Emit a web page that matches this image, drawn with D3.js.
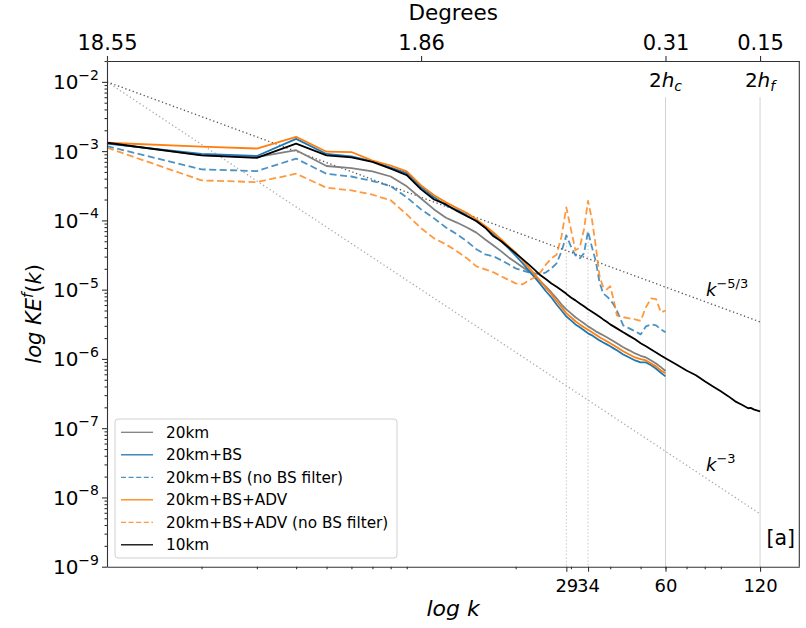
<!DOCTYPE html>
<html>
<head>
<meta charset="utf-8">
<script src="https://cdn.jsdelivr.net/npm/d3@7"></script>
<style>
  body { margin: 0; background: #fff; }
  svg { display: block; }
  text { font-family: "DejaVu Sans", sans-serif; fill: #000; }
</style>
</head>
<body>
<svg id="chart" width="806" height="628"></svg>
<script>
// Wavenumbers of the 20 km runs
const k20 = [1,2,3,4,5,6,7,8,9,10,11,12,13,14,15,16,17,18,19,20,21,22,23,24,25,26,27,28,29,30,
  31,32,33,34,35,36,37,38,39,40,41,42,44,46,48,50,52,54,56,58,60];

// Wavenumbers of the 10 km run
const k10 = [1,2,3,4,5,6,7,8,9,10,11,12,13,14,15,16,17,18,19,20,21,22,23,24,25,26,27,28,29,30,
  31,32,33,34,35,36,37,38,39,40,41,42,44,46,48,50,52,54,56,58,60,65,70,75,80,85,90,95,100,105,110,112,115,120];

// Kinetic energy spectra
const ke20km = [1.3e-3,8.75e-4,8.2e-4,1.03e-3,6.1e-4,5.7e-4,5.1e-4,4.3e-4,3.1e-4,2.07e-4,
  1.44e-4,1.09e-4,9.3e-5,7.9e-5,6.65e-5,5.3e-5,4.35e-5,3.57e-5,2.92e-5,2.48e-5,
  2.13e-5,1.84e-5,1.56e-5,1.32e-5,1.1e-5,9.1e-6,7.5e-6,6.1e-6,5.2e-6,4.55e-6,
  4.0e-6,3.6e-6,3.27e-6,2.95e-6,2.72e-6,2.5e-6,2.34e-6,2.19e-6,2.05e-6,1.92e-6,
  1.8e-6,1.68e-6,1.47e-6,1.33e-6,1.2e-6,1.11e-6,1.05e-6,9.5e-7,8.6e-7,7.6e-7,6.7e-7];

const ke20kmBS = [1.28e-3,9.1e-4,8.5e-4,1.5e-3,9.1e-4,8.4e-4,7.1e-4,5.8e-4,4.8e-4,3.0e-4,
  2.15e-4,1.65e-4,1.42e-4,1.18e-4,9.7e-5,7.9e-5,6.3e-5,5.0e-5,3.95e-5,3.1e-5,
  2.44e-5,1.9e-5,1.5e-5,1.19e-5,9.4e-6,7.7e-6,6.1e-6,5.0e-6,4.1e-6,3.6e-6,
  3.15e-6,2.86e-6,2.59e-6,2.34e-6,2.19e-6,2.01e-6,1.85e-6,1.73e-6,1.62e-6,1.52e-6,
  1.42e-6,1.33e-6,1.16e-6,1.05e-6,9.5e-7,8.9e-7,8.9e-7,8.1e-7,7.2e-7,6.3e-7,5.6e-7];

const ke20kmBSnoFilter = [1.18e-3,5.45e-4,5.15e-4,7.8e-4,4.7e-4,4.3e-4,3.7e-4,3.13e-4,2.15e-4,1.44e-4,
  1.07e-4,7.9e-5,6.3e-5,4.97e-5,3.82e-5,3.23e-5,3.03e-5,2.65e-5,2.32e-5,2.03e-5,
  1.9e-5,1.78e-5,1.72e-5,1.66e-5,1.78e-5,2.03e-5,2.4e-5,3.57e-5,6.1e-5,4.2e-5,
  3.13e-5,2.83e-5,3.34e-5,6.95e-5,4.08e-5,2.57e-5,1.27e-5,8.8e-6,8.0e-6,7.2e-6,
  6.1e-6,5.0e-6,3.05e-6,2.76e-6,2.5e-6,2.26e-6,2.95e-6,3.15e-6,3.05e-6,2.67e-6,2.42e-6];

const ke20kmBSADV = [1.32e-3,1.16e-3,1.09e-3,1.61e-3,9.8e-4,9.7e-4,7.3e-4,6.2e-4,5.1e-4,3.2e-4,
  2.3e-4,1.82e-4,1.51e-4,1.28e-4,1.03e-4,8.3e-5,6.7e-5,5.3e-5,4.2e-5,3.45e-5,
  2.68e-5,2.1e-5,1.66e-5,1.32e-5,1.05e-5,8.6e-6,6.8e-6,5.6e-6,4.55e-6,4.0e-6,
  3.5e-6,3.15e-6,2.86e-6,2.63e-6,2.42e-6,2.23e-6,2.05e-6,1.92e-6,1.8e-6,1.68e-6,
  1.57e-6,1.47e-6,1.29e-6,1.16e-6,1.05e-6,9.9e-7,9.5e-7,8.6e-7,7.8e-7,6.8e-7,6.2e-7];

const ke20kmBSADVnoFilter = [1.12e-3,3.78e-4,3.57e-4,4.72e-4,2.96e-4,2.71e-4,2.35e-4,1.95e-4,1.22e-4,7.7e-5,
  5.5e-5,4.5e-5,3.58e-5,2.83e-5,2.17e-5,1.96e-5,1.78e-5,1.56e-5,1.38e-5,1.23e-5,
  1.19e-5,1.36e-5,1.5e-5,1.78e-5,2.32e-5,2.83e-5,3.2e-5,5.9e-5,1.54e-4,7.4e-5,
  3.7e-5,4.07e-5,7.4e-5,1.91e-4,1.03e-4,4.2e-5,1.56e-5,1.08e-5,1.01e-5,1.12e-5,
  7.2e-6,4.26e-6,4.0e-6,3.85e-6,3.72e-6,3.55e-6,5.6e-6,7.5e-6,7.3e-6,4.7e-6,5.0e-6];

const ke10km = [1.32e-3,8.7e-4,8.0e-4,1.28e-3,8.7e-4,8.1e-4,7.0e-4,5.6e-4,4.5e-4,2.8e-4,
  2.0e-4,1.7e-4,1.37e-4,1.15e-4,9.8e-5,7.85e-5,5.9e-5,5.0e-5,4.07e-5,3.34e-5,
  2.78e-5,2.32e-5,1.93e-5,1.61e-5,1.41e-5,1.23e-5,1.1e-5,9.8e-6,8.7e-6,7.7e-6,
  7.0e-6,6.3e-6,5.74e-6,5.2e-6,4.79e-6,4.4e-6,4.06e-6,3.72e-6,3.43e-6,3.15e-6,
  2.95e-6,2.76e-6,2.42e-6,2.15e-6,1.92e-6,1.68e-6,1.52e-6,1.37e-6,1.24e-6,1.12e-6,1.02e-6,
  8.3e-7,6.8e-7,5.8e-7,4.75e-7,4.0e-7,3.4e-7,2.9e-7,2.44e-7,2.18e-7,1.94e-7,1.96e-7,1.85e-7,1.75e-7];

const seriesNames = ["20km", "20km+BS", "20km+BS (no BS filter)", "20km+BS+ADV",
  "20km+BS+ADV (no BS filter)", "10km"];

// Axis ticks
const yMajorTicks = [1e-2,1e-3,1e-4,1e-5,1e-6,1e-7,1e-8,1e-9];
const yExponents = ["\u22122","\u22123","\u22124","\u22125","\u22126","\u22127","\u22128","\u22129"];
const xBottomTicks = [29, 34, 60, 120];
const xTopTicks = [1, 10, 60, 120];
const degreeLabels = ["18.55", "1.86", "0.31", "0.15"];
const resolutionK = [60, 120];
const resolutionLabels = ["c", "f"];
const peakK = [29, 34];

// Reference slopes k^-5/3 and k^-3 anchored at k = 1
const slopeStartK = 1, slopeEndK = 120, slopeAnchor = 1e-2;
const slopes = [-5/3, -3];
const slopeExponents = ["\u22125/3", "\u22123"];

const svg = d3.select("#chart");
const x = d3.scaleLog().domain([1, 160]).range([107, 799.3]);
const y = d3.scaleLog().domain([1e-9, 2e-2]).range([566.7, 61]);
const x0 = x.range()[0], x1 = x.range()[1], yb = y.range()[0], yt = y.range()[1];

const axisColor = "#333";

// resolution markers
resolutionK.forEach(k => {
  svg.append("line")
    .attr("x1", x(k)).attr("x2", x(k))
    .attr("y1", y(6e-3)).attr("y2", yb)
    .attr("stroke", "#d3d3d3").attr("stroke-width", 1);
});

// forcing wavenumbers
peakK.forEach(k => {
  const i = k20.indexOf(k);
  svg.append("line")
    .attr("x1", x(k)).attr("x2", x(k))
    .attr("y1", y(ke20kmBSnoFilter[i])).attr("y2", yb)
    .attr("stroke", "#c8c8c8").attr("stroke-width", 1)
    .attr("stroke-dasharray", "1.5,2");
});

// reference slopes
const slopeColors = ["#555", "#aaa"];
slopes.forEach((s, i) => {
  svg.append("line")
    .attr("x1", x(slopeStartK)).attr("y1", y(slopeAnchor))
    .attr("x2", x(slopeEndK)).attr("y2", y(slopeAnchor * Math.pow(slopeEndK / slopeStartK, s)))
    .attr("stroke", slopeColors[i]).attr("stroke-width", 1.3)
    .attr("stroke-dasharray", "1.3,2.6");
});

// spectra
const line = d3.line().x(d => x(d[0])).y(d => y(d[1]));
const styles = [
  { color: "#808080", dash: null, op: 1 },
  { color: "#1f77b4", dash: null, op: 1 },
  { color: "#1f77b4", dash: "7,3.5", op: 0.8 },
  { color: "#ff7f0e", dash: null, op: 1 },
  { color: "#ff7f0e", dash: "7,3.5", op: 0.8 },
  { color: "#000000", dash: null, op: 1 }
];
const seriesData = [
  d3.zip(k20, ke20km),
  d3.zip(k20, ke20kmBS),
  d3.zip(k20, ke20kmBSnoFilter),
  d3.zip(k20, ke20kmBSADV),
  d3.zip(k20, ke20kmBSADVnoFilter),
  d3.zip(k10, ke10km)
];
seriesData.forEach((d, i) => {
  svg.append("path")
    .attr("d", line(d))
    .attr("fill", "none")
    .attr("stroke", styles[i].color)
    .attr("stroke-opacity", styles[i].op)
    .attr("stroke-width", 1.8)
    .attr("stroke-linejoin", "round")
    .attr("stroke-dasharray", styles[i].dash);
});

// frame
svg.append("line").attr("x1", x1).attr("x2", x1).attr("y1", yt).attr("y2", yb)
  .attr("stroke", axisColor).attr("stroke-width", 1.1);

// left axis
svg.append("g").attr("transform", `translate(${x0},0)`)
  .call(d3.axisLeft(y).tickValues(yMajorTicks).tickSize(5).tickSizeOuter(0).tickFormat(() => ""));
const yMinor = [];
for (let e = -9; e < -1; e++) for (let m = 2; m <= 9; m++) {
  const v = m * Math.pow(10, e);
  if (v <= 2e-2) yMinor.push(v);
}
svg.append("g").attr("transform", `translate(${x0},0)`)
  .call(d3.axisLeft(y).tickValues(yMinor).tickSize(2.5).tickSizeOuter(0).tickFormat(() => ""))
  .call(g => g.select(".domain").remove());
yMajorTicks.forEach((v, i) => {
  const t = svg.append("text").attr("x", x0 - 8).attr("y", y(v) + 7.5)
    .attr("text-anchor", "end").style("font-size", "20px");
  t.append("tspan").text("10");
  t.append("tspan").text(yExponents[i]).attr("dy", -9.5).style("font-size", "14px");
});

// bottom axis
const xMinor = [];
for (let e = 0; e <= 1; e++) for (let m = 2; m <= 9; m++) xMinor.push(m * Math.pow(10, e));
svg.append("g").attr("transform", `translate(0,${yb})`)
  .call(d3.axisBottom(x).tickValues(xBottomTicks).tickSize(5).tickSizeOuter(0).tickFormat(d3.format("d")))
  .call(g => g.selectAll("text").style("font-size", "18px").attr("dy", "0.95em").attr("fill", "#000"));
svg.append("g").attr("transform", `translate(0,${yb})`)
  .call(d3.axisBottom(x).tickValues(xMinor).tickSize(2.5).tickSizeOuter(0).tickFormat(() => ""))
  .call(g => g.select(".domain").remove());

// top axis in degrees
svg.append("g").attr("transform", `translate(0,${yt})`)
  .call(d3.axisTop(x).tickValues(xTopTicks).tickSize(5).tickSizeOuter(0)
    .tickFormat((d, i) => degreeLabels[i]))
  .call(g => g.selectAll("text").style("font-size", "21px").attr("y", -11).attr("fill", "#000"));

svg.selectAll(".domain, .tick line").attr("stroke", axisColor).attr("stroke-width", 1.1);

// axis titles
svg.append("text").attr("x", (x0 + x1) / 2).attr("y", 20).attr("text-anchor", "middle")
  .style("font-size", "21.5px").text("Degrees");
svg.append("text").attr("x", (x0 + x1) / 2).attr("y", 616).attr("text-anchor", "middle")
  .style("font-size", "22px").style("font-style", "italic").text("log k");
const yl = svg.append("text").attr("transform", `translate(41,${(yt + yb) / 2}) rotate(-90)`)
  .attr("text-anchor", "middle").style("font-size", "21px").style("font-style", "italic");
yl.append("tspan").text("log KE");
yl.append("tspan").text("f").attr("dy", -8).style("font-size", "15px");
yl.append("tspan").text("(").attr("dy", 8).style("font-style", "normal");
yl.append("tspan").text("k");
yl.append("tspan").text(")").style("font-style", "normal");

// resolution labels 2h_c, 2h_f
resolutionK.forEach((k, i) => {
  const t = svg.append("text").attr("x", x(k)).attr("y", 87).attr("text-anchor", "middle")
    .style("font-size", "20px");
  t.append("tspan").text("2");
  t.append("tspan").text("h").style("font-style", "italic");
  t.append("tspan").text(resolutionLabels[i]).attr("dy", 4).style("font-size", "14px").style("font-style", "italic");
});

// slope labels
const slopeLabelY = [296, 470.5];
slopeExponents.forEach((exp, i) => {
  const t = svg.append("text").attr("x", 706).attr("y", slopeLabelY[i]).style("font-size", "18px");
  t.append("tspan").text("k").style("font-style", "italic");
  t.append("tspan").text(exp).attr("dy", -8).style("font-size", "13px");
});

// panel tag
svg.append("text").attr("x", 795).attr("y", 545).attr("text-anchor", "end")
  .style("font-size", "20.5px").text("[a]");

// legend
const lg = svg.append("g").attr("transform", "translate(115,419)");
lg.append("rect").attr("width", 282).attr("height", 139).attr("rx", 3)
  .attr("fill", "#fff").attr("fill-opacity", 0.85).attr("stroke", "#d0d0d0");
seriesNames.forEach((name, i) => {
  const yy = 13.3 + i * 22.5;
  lg.append("line").attr("x1", 6).attr("x2", 38).attr("y1", yy).attr("y2", yy)
    .attr("stroke", styles[i].color).attr("stroke-opacity", styles[i].op)
    .attr("stroke-width", 1.3).attr("stroke-dasharray", styles[i].dash ? "5,2.6" : null);
  lg.append("text").attr("x", 51).attr("y", yy + 5.5).style("font-size", "15.3px").text(name);
});
</script>
</body>
</html>
